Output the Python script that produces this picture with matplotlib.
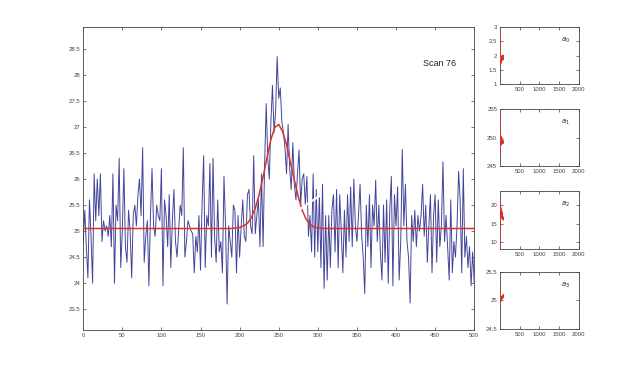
import numpy as np
import matplotlib
matplotlib.use("Agg")
import matplotlib.pyplot as plt

# ---- data ----
scan_y = [
    # x 0..82
    24.8, 25.4, 24.7, 24.1, 25.6, 24.9, 24.0, 26.1, 25.2, 26.0, 25.3, 26.1, 24.8, 25.2,
    25.0, 25.1, 24.9, 25.3, 24.7, 26.1, 24.0, 25.5, 25.2, 26.4, 24.3, 25.0, 26.2, 24.7,
    24.4, 25.4, 25.0, 24.1, 25.3, 25.5, 25.1, 25.7, 26.0, 25.3, 26.6, 24.4, 24.9, 25.2,
    # x 84..166
    23.95, 25.3, 26.2, 25.1, 24.9, 25.5, 25.3, 25.2, 26.2, 23.95, 25.6, 25.3, 24.7, 25.7,
    24.3, 25.2, 25.8, 24.8, 24.5, 25.0, 25.5, 25.3, 26.6, 24.5, 24.8, 25.2, 25.1, 25.0,
    24.95, 24.2, 24.9, 24.6, 25.3, 24.25, 25.5, 26.45, 24.3, 25.3, 25.1, 26.3, 24.5, 26.4,
    # x 168..248
    24.9, 24.4, 25.6, 24.6, 24.8, 24.2, 26.05, 25.1, 23.6, 25.1, 24.8, 24.5, 25.5, 25.4,
    24.2, 25.3, 24.5, 25.1, 25.6, 24.9, 24.8, 25.7, 25.8, 25.1, 24.95, 26.45, 24.95, 25.3,
    25.6, 24.7, 26.1, 24.7, 26.3, 27.45, 26.4, 26.0, 27.1, 27.8, 26.9, 27.3, 28.35,
    # x 250..332
    27.55, 27.75, 27.1, 26.9, 26.6, 26.1, 27.05, 26.2, 25.8, 26.7, 25.9, 25.6, 26.1, 26.56,
    25.5, 26.0, 26.1, 25.5, 26.05, 24.9, 25.3, 24.6, 26.1, 24.5, 25.8, 24.6, 25.7, 24.3,
    25.9, 23.9, 25.3, 24.06, 25.3, 24.3, 25.4, 25.7, 24.6, 25.8, 24.3, 25.7, 25.0, 24.2,
    # x 334..414
    25.4, 24.5, 25.7, 24.8, 25.85, 24.7, 26.0, 25.1, 24.8, 25.3, 25.9, 24.95, 24.5, 23.8,
    25.5, 24.7, 25.7, 24.3, 25.5, 25.1, 25.98, 24.8, 25.5, 24.6, 24.06, 25.5, 24.4, 25.6,
    24.0, 25.4, 26.05, 23.95, 25.7, 25.1, 25.85, 24.06, 24.8, 26.57, 25.1, 25.9, 24.8,
    # x 416..500
    24.5, 23.62, 25.3, 24.8, 25.4, 24.7, 25.3, 25.0, 25.3, 25.9, 24.9, 25.5, 24.4, 25.1,
    25.7, 24.2, 25.3, 25.7, 24.4, 25.6, 24.7, 25.1, 26.33, 24.8, 25.3, 24.7, 24.06, 25.6,
    24.2, 24.8, 24.5, 25.1, 26.15, 25.6, 24.2, 26.2, 24.5, 24.9, 24.3, 24.7, 23.95, 24.6,
    24.0,
]
scan_x = np.arange(len(scan_y)) * 2

fit_x = [0, 180, 190, 200, 205, 210, 215, 220, 225, 230, 235, 240, 245, 250, 255, 260,
         265, 270, 275, 280, 285, 290, 295, 300, 310, 500]
fit_y = [25.05, 25.05, 25.05, 25.07, 25.10, 25.15, 25.26, 25.44, 25.70, 26.04, 26.41,
         26.76, 26.99, 27.05, 26.91, 26.66, 26.32, 25.98, 25.66, 25.40, 25.23, 25.13,
         25.08, 25.06, 25.05, 25.05]

# white streak (artifact across the plot)
streak_x = [277, 324]
streak_y = [25.42, 25.9]

hist_x = [0, 6, 12, 18, 24, 30, 36, 42, 48, 54, 60, 66, 72, 78, 84, 90]
a0_hist = [3.6, 1.62, 1.9, 1.7, 1.85, 1.75, 1.95, 1.8, 1.9, 1.85, 2.0, 1.9, 1.95, 1.85, 1.98, 2.0]
a1_hist = [256, 247.8, 250.5, 248.6, 249.8, 248.8, 250.2, 249.0, 249.6, 248.9, 249.4,
           249.1, 249.6, 249.0, 249.3, 249.2]
a2_hist = [5, 20.5, 17, 19.5, 16.5, 19, 17.5, 18.5, 16.8, 18, 16.5, 17.2, 16.2, 16.8, 16.0, 16.2]
a3_hist = [25.31, 25.0, 25.05, 24.98, 25.04, 25.0, 25.06, 25.02, 25.05, 25.03, 25.07,
           25.04, 25.08, 25.05, 25.09, 25.1]

main_xticks = [0, 50, 100, 150, 200, 250, 300, 350, 400, 450, 500]
main_yticks = [23.5, 24, 24.5, 25, 25.5, 26, 26.5, 27, 27.5, 28, 28.5]
main_yticklabels = ["23.5", "24", "24.5", "25", "25.5", "26", "26.5", "27", "27.5", "28", "28.5"]

small_xticks = [500, 1000, 1500, 2000]
small_specs = [
    ("$a_0$", a0_hist, (1, 3), [1, 1.5, 2, 2.5, 3], ["1", "1.5", "2", "2.5", "3"]),
    ("$a_1$", a1_hist, (245, 255), [245, 250, 255], ["245", "250", "255"]),
    ("$a_2$", a2_hist, (8, 24), [10, 15, 20], ["10", "15", "20"]),
    ("$a_3$", a3_hist, (24.5, 25.5), [24.5, 25, 25.5], ["24.5", "25", "25.5"]),
]

# ---- style ----
plt.rcParams['font.family'] = ['Liberation Sans', 'DejaVu Sans']
blue = '#43459a'
red = '#d8322c'
spine_c = '#444444'
tick_fs = 4.3

fig = plt.figure(figsize=(6.4, 3.7), dpi=100)


def style(ax):
    for s in ax.spines.values():
        s.set_color(spine_c)
        s.set_linewidth(0.6)
    ax.tick_params(direction='in', length=2.5, width=0.5, colors=spine_c,
                   labelsize=tick_fs, top=True, right=True, pad=2)


ax = fig.add_axes([0.130, 0.108, 0.611, 0.819])
ax.plot(scan_x, scan_y, color=blue, lw=0.7, zorder=2)
ax.plot(fit_x, fit_y, color=red, lw=1.1, zorder=3)
ax.plot(streak_x, streak_y, color='white', lw=1.6, dashes=(5, 1.5), zorder=4)
ax.set_xlim(0, 500)
ax.set_ylim(23.1, 28.92)
ax.set_xticks(main_xticks)
ax.set_yticks(main_yticks)
ax.set_yticklabels(main_yticklabels)
ax.text(456, 28.21, "Scan 76", fontsize=6.5, ha='center', va='center', color='#222222')
style(ax)

bottoms = [0.773, 0.551, 0.327, 0.111]
heights = [0.154, 0.154, 0.157, 0.154]
for (lab, hist, ylim, yt, ytl), b, h in zip(small_specs, bottoms, heights):
    sa = fig.add_axes([0.781, b, 0.123, h])
    sa.plot(hist_x, hist, color=red, lw=1.0, zorder=3)
    sa.set_xlim(0, 2000)
    sa.set_ylim(*ylim)
    sa.set_xticks(small_xticks)
    sa.set_yticks(yt)
    sa.set_yticklabels(ytl)
    sa.text(0.83, 0.76, lab, transform=sa.transAxes, fontsize=5, ha='center', va='center',
            color='#222222')
    style(sa)
    sa.tick_params(length=2)

fig.savefig("out.png", dpi=100, facecolor='white')
